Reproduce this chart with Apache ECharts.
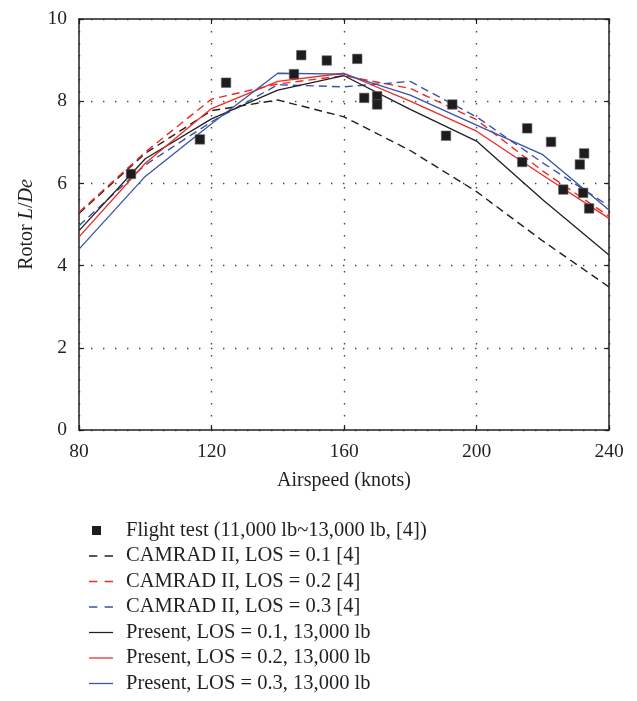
<!DOCTYPE html>
<html>
<head>
<meta charset="utf-8">
<script src="https://cdn.jsdelivr.net/npm/echarts@6/dist/echarts.min.js"></script>
<style>
html,body{margin:0;padding:0;background:#fff;}
#chart{width:637px;height:701px;}
</style>
</head>
<body>
<div id="chart"></div>
<script>
// ---- data ----
const speeds = [80, 100, 120, 140, 160, 180, 200, 220, 240];
const camradLos01 = [5.27, 6.73, 7.77, 8.03, 7.62, 6.80, 5.80, 4.60, 3.48];
const camradLos02 = [5.30, 6.76, 8.05, 8.42, 8.62, 8.31, 7.55, 6.30, 5.20];
const camradLos03 = [4.97, 6.45, 7.50, 8.40, 8.35, 8.48, 7.62, 6.50, 5.45];
const presentLos01 = [4.85, 6.60, 7.57, 8.27, 8.62, 7.80, 7.03, 5.60, 4.26];
const presentLos02 = [4.70, 6.49, 7.82, 8.48, 8.68, 8.00, 7.27, 6.20, 5.15];
const presentLos03 = [4.40, 6.17, 7.45, 8.68, 8.66, 8.15, 7.42, 6.70, 5.35];
const flightSpeed = [95.7, 116.5, 124.4, 144.9, 147.1, 154.8, 164.0, 166.1, 170.0, 170.0, 190.8, 192.7, 213.8, 215.3, 222.5, 226.2, 231.2, 232.2, 232.5, 234.0];
const flightLD    = [6.23, 7.07, 8.45, 8.66, 9.12, 8.99, 9.03, 8.08, 8.12, 7.92, 7.16, 7.92, 6.52, 7.34, 7.01, 5.85, 6.46, 5.77, 6.73, 5.39];
const xTicks = [80, 120, 160, 200, 240];
const yTicks = [0, 2, 4, 6, 8, 10];
const names = [
  'Flight test (11,000 lb~13,000 lb, [4])',
  'CAMRAD II, LOS = 0.1 [4]',
  'CAMRAD II, LOS = 0.2 [4]',
  'CAMRAD II, LOS = 0.3 [4]',
  'Present, LOS = 0.1, 13,000 lb',
  'Present, LOS = 0.2, 13,000 lb',
  'Present, LOS = 0.3, 13,000 lb'
];

const BLACK = '#231f20', RED = '#ee2a24', BLUE = '#3a53a4';
const FONT = 'Liberation Serif';
const pair = (xs, ys) => xs.map((x, i) => [x, ys[i]]);

const ICON_SQUARE = 'path://M0,0H0.01V0.01H0Z M3,0H12V9H3Z M23.99,8.99H24V9H23.99Z';
const ICON_DASH = 'path://M0,0H8V1.4H0Z M15,0H23V1.4H15Z';
const ICON_SOLID = 'path://M0,0H23V1.2H0Z';

function lineSeries(name, vals, color, dashed) {
  return {
    name: name, type: 'line', data: pair(speeds, vals),
    symbol: 'none', showSymbol: false, silent: true, animation: false,
    lineStyle: { color: color, width: dashed ? 1.4 : 1.3, type: dashed ? [8, 5] : 'solid' },
    itemStyle: { color: color }
  };
}

const gridDots = { show: true, lineStyle: { color: '#444', width: 1.4, type: [1.4, 10.6] } };

const chart = echarts.init(document.getElementById('chart'), null, { renderer: 'canvas' });
chart.setOption({
  backgroundColor: '#fff',
  animation: false,
  textStyle: { fontFamily: FONT },
  grid: { left: 79, right: 28, top: 19, bottom: 271, containLabel: false },
  legend: {
    orient: 'vertical', left: 89, top: 520, width: 500, height: 200, padding: 0,
    itemWidth: 24, itemHeight: 9, itemGap: 4.5,
    selectedMode: false,
    itemStyle: { borderWidth: 0 },
    textStyle: { fontFamily: FONT, fontSize: 20.5, color: '#231f20', lineHeight: 20, padding: [0, 0, 0, 8] },
    data: [
      { name: names[0], icon: ICON_SQUARE },
      { name: names[1], icon: ICON_DASH },
      { name: names[2], icon: ICON_DASH },
      { name: names[3], icon: ICON_DASH },
      { name: names[4], icon: ICON_SOLID },
      { name: names[5], icon: ICON_SOLID },
      { name: names[6], icon: ICON_SOLID }
    ]
  },
  xAxis: [{
    type: 'value', min: 80, max: 240, interval: 40,
    name: 'Airspeed (knots)', nameLocation: 'middle', nameGap: 41,
    nameTextStyle: { fontFamily: FONT, fontSize: 20, color: '#231f20' },
    axisLine: { show: true, onZero: false, lineStyle: { color: BLACK, width: 1.5 } },
    axisTick: { show: true, inside: true, length: 5, lineStyle: { color: BLACK, width: 1.2 } },
    axisLabel: { fontFamily: FONT, fontSize: 19.5, color: '#231f20', margin: 12,
      formatter: v => xTicks.includes(v) ? String(v) : '' },
    splitLine: gridDots
  }, {
    type: 'value', min: 80, max: 240, interval: 40, position: 'top',
    axisLine: { show: true, onZero: false, lineStyle: { color: BLACK, width: 1.5 } },
    axisTick: { show: true, inside: true, length: 5, lineStyle: { color: BLACK, width: 1.2 } },
    axisLabel: { show: false }, splitLine: { show: false }
  }],
  yAxis: [{
    type: 'value', min: 0, max: 10, interval: 2,
    name: '{a|Rotor }{b|L}{a|/}{b|De}', nameLocation: 'middle', nameGap: 41, nameRotate: 90,
    nameTextStyle: { rich: {
      a: { fontFamily: FONT, fontSize: 20, color: '#231f20' },
      b: { fontFamily: FONT, fontSize: 20, color: '#231f20', fontStyle: 'italic' } } },
    axisLine: { show: true, onZero: false, lineStyle: { color: BLACK, width: 1.5 } },
    axisTick: { show: true, inside: true, length: 5, lineStyle: { color: BLACK, width: 1.2 } },
    axisLabel: { fontFamily: FONT, fontSize: 19.5, color: '#231f20', margin: 12,
      formatter: v => yTicks.includes(v) ? String(v) : '' },
    splitLine: gridDots
  }, {
    type: 'value', min: 0, max: 10, interval: 2, position: 'right',
    axisLine: { show: true, onZero: false, lineStyle: { color: BLACK, width: 1.5 } },
    axisTick: { show: true, inside: true, length: 5, lineStyle: { color: BLACK, width: 1.2 } },
    axisLabel: { show: false }, splitLine: { show: false }
  }],
  series: [
    lineSeries(names[1], camradLos01, BLACK, true),
    lineSeries(names[2], camradLos02, RED, true),
    lineSeries(names[3], camradLos03, BLUE, true),
    lineSeries(names[4], presentLos01, BLACK, false),
    lineSeries(names[5], presentLos02, RED, false),
    lineSeries(names[6], presentLos03, BLUE, false),
    {
      name: names[0], type: 'scatter', data: pair(flightSpeed, flightLD),
      symbol: 'rect', symbolSize: 9.5, silent: true, z: 5,
      itemStyle: { color: '#1e1c1d', borderColor: '#666', borderWidth: 0.6, opacity: 1 }
    }
  ]
});
</script>
</body>
</html>
